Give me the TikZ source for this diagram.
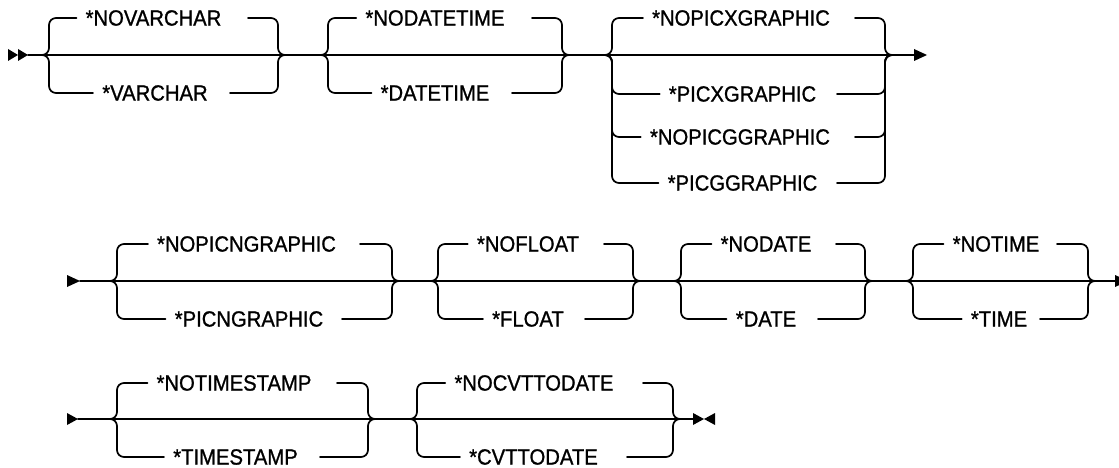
\documentclass[tikz,border=0pt]{standalone}
\usepackage{fontspec}
\newfontfamily\lblfont[FakeBold=1.1]{Liberation Sans}
\tikzset{
  lbl/.style={font=\lblfont\fontsize{22}{24}\selectfont, xscale=0.92, anchor=center, inner sep=0pt},
  rail/.style={line width=1.7pt, line cap=round, line join=round},
  br/.style={rail, rounded corners=7pt},
  tip/.style={fill=black}
}
% #1 name, #2 text, #3 text centre x, #4 y, #5 main y, #6 left V, #7 right V, #8 right line start
\newcommand\optbranch[8]{%
  \node[lbl] (#1) at (#3,#4) {#2};
  \draw[br] ([xshift=-9pt]#1.west) -- (#6,#4) -- (#6,#5) -- (#6-7,#5);
  \draw[br] (#8,#4) -- (#7,#4) -- (#7,#5) -- (#7+7,#5);
}
\begin{document}
\begin{tikzpicture}[x=1pt,y=-1pt]
\useasboundingbox (0,0) rectangle (1119,468);
% ---------- Row 1 ----------
\coordinate (s1) at (28,55);
\coordinate (e1) at (914,55);
\fill[tip] (8,49) -- (18,55) -- (8,61) -- cycle;
\fill[tip] (18,49) -- (28,55) -- (18,61) -- cycle;
\draw[rail] (s1) -- (e1);
\fill[tip] (914,49) -- (927,55) -- (914,61) -- cycle;
\optbranch{novarchar}{*NOVARCHAR}{153.5}{18}{55}{49}{278}{248}
\optbranch{varchar}{*VARCHAR}{155}{93}{55}{49}{278}{230}
\optbranch{nodatetime}{*NODATETIME}{435}{18}{55}{328}{562}{532}
\optbranch{datetime}{*DATETIME}{435}{93}{55}{328}{562}{512}
\optbranch{nopicx}{*NOPICXGRAPHIC}{741}{18}{55}{612}{885}{855}
\optbranch{picx}{*PICXGRAPHIC}{742.5}{94}{55}{612}{885}{837}
\optbranch{nopicg}{*NOPICGGRAPHIC}{740}{137}{55}{612}{885}{855}
\optbranch{picg}{*PICGGRAPHIC}{742.5}{183}{55}{612}{885}{837}
% ---------- Row 2 ----------
\coordinate (s2) at (80,281);
\coordinate (e2) at (1115,281);
\fill[tip] (67,275) -- (80,281) -- (67,287) -- cycle;
\draw[rail] (s2) -- (e2);
\fill[tip] (1115,275) -- (1128,281) -- (1115,287) -- cycle;
\optbranch{nopicn}{*NOPICNGRAPHIC}{246.5}{244}{281}{117}{392}{360}
\optbranch{picn}{*PICNGRAPHIC}{249}{319}{281}{117}{392}{342}
\optbranch{nofloat}{*NOFLOAT}{528}{244}{281}{438}{633}{604}
\optbranch{float}{*FLOAT}{528}{319}{281}{438}{633}{585}
\optbranch{nodate}{*NODATE}{766}{244}{281}{681}{865}{836}
\optbranch{date}{*DATE}{766}{319}{281}{681}{865}{818}
\optbranch{notime}{*NOTIME}{996}{244}{281}{913}{1088}{1057}
\optbranch{time}{*TIME}{999}{319}{281}{913}{1088}{1040}
% ---------- Row 3 ----------
\coordinate (s3) at (78,419);
\coordinate (e3) at (693,419);
\fill[tip] (67,413) -- (78,419) -- (67,425) -- cycle;
\draw[rail] (s3) -- (e3);
\fill[tip] (693,413) -- (704,419) -- (693,425) -- cycle;
\fill[tip] (715,413) -- (704,419) -- (715,425) -- cycle;
\optbranch{notimestamp}{*NOTIMESTAMP}{234}{383}{419}{117}{368}{337}
\optbranch{timestamp}{*TIMESTAMP}{235.5}{457}{419}{117}{368}{320}
\optbranch{nocvt}{*NOCVTTODATE}{534}{383}{419}{417}{673}{643}
\optbranch{cvt}{*CVTTODATE}{533.5}{457}{419}{417}{673}{627}
\end{tikzpicture}
\end{document}
